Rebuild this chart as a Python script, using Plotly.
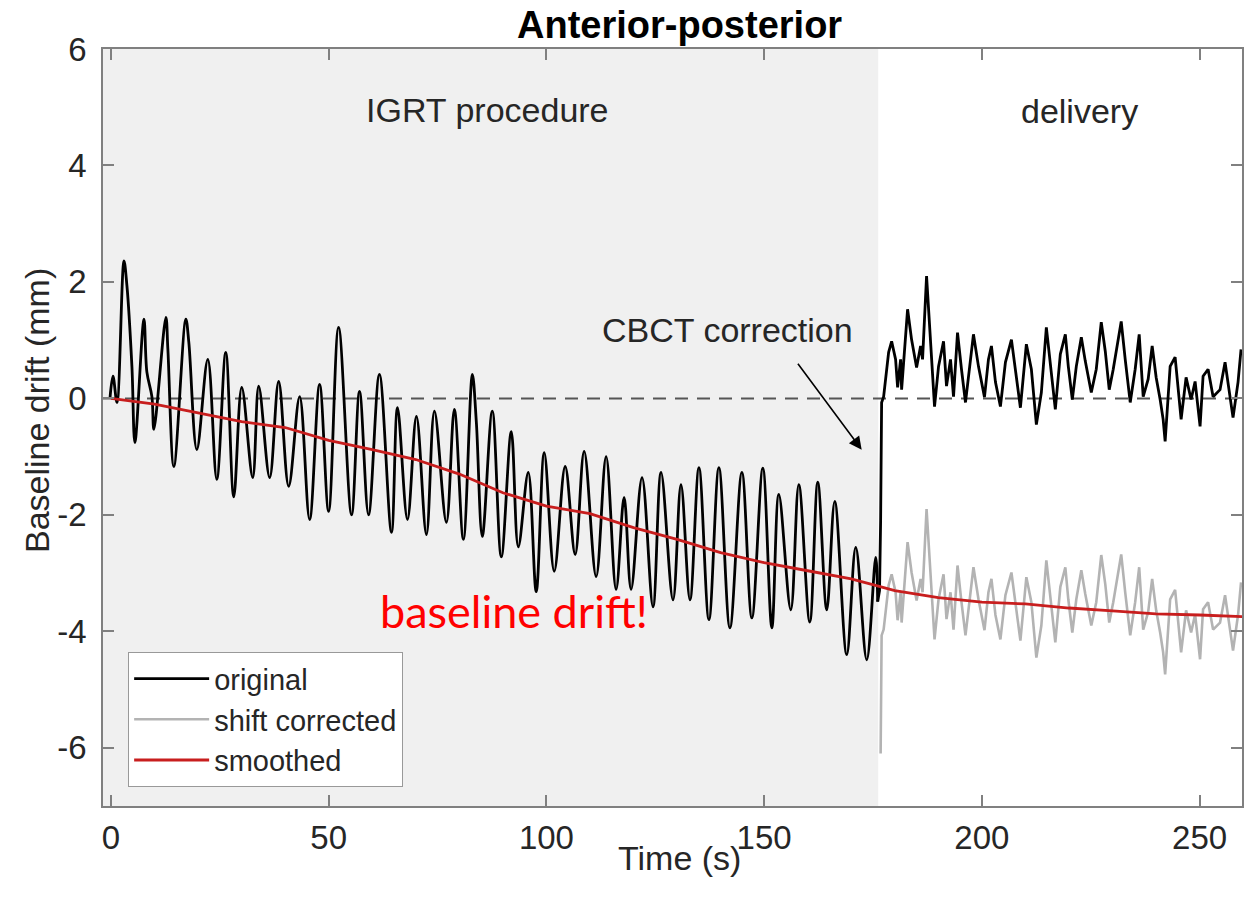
import plotly.graph_objects as go

# ---------------- data ----------------
# original signal: time (s) and baseline drift (mm)
orig_t = [-0.23, 0.46, 1.38, 2.98, 3.67, 4.81, 5.50, 7.57, 8.25, 9.40, 9.86, 12.61, 13.07, 14.44,
          17.19, 17.88, 19.72, 22.24, 24.30, 26.36, 28.20, 30.03, 32.55, 33.93, 36.45, 38.51,
          40.81, 43.33, 45.62, 47.91, 49.98, 52.27, 55.25, 57.08, 59.15, 61.65, 64.42, 65.80,
          68.09, 70.15, 72.44, 74.28, 77.03, 78.86, 80.93, 82.99, 83.91, 85.28, 87.57, 89.64,
          91.93, 93.54, 95.83, 97.66, 99.50, 101.79, 104.31, 106.60, 108.67, 111.42, 113.71,
          116.00, 117.84, 119.44, 121.96, 124.48, 126.32, 129.07, 130.90, 132.97, 135.03,
          137.32, 139.61, 142.14, 144.89, 147.18, 149.70, 151.77, 153.37, 156.12, 157.96,
          160.48, 162.32, 164.38, 166.22, 168.97, 171.04, 173.56, 175.62, 176.08, 176.50,
          176.75,
          176.98, 177.44, 178.59, 179.28, 180.19, 180.65, 181.34, 181.57, 182.94, 183.86,
          184.32, 185.01, 185.93, 186.38, 187.30, 188.22, 189.13, 190.05, 191.20, 191.88,
          192.80, 193.49, 194.41, 195.32, 196.24, 198.07, 199.22, 200.60, 201.51, 202.20,
          203.12, 204.26, 205.41, 206.79, 207.70, 208.85, 210.22, 211.37, 212.52, 213.66,
          214.81, 215.73, 216.87, 218.02, 219.17, 219.85, 220.77, 221.69, 222.84, 223.75,
          225.13, 226.27, 227.42, 228.34, 229.25, 230.17, 232.00, 232.92, 234.07, 235.21,
          236.13, 237.05, 238.19, 239.11, 240.03, 240.94, 241.63, 242.09, 243.24, 244.38,
          245.07, 245.76, 246.90, 248.05, 248.97, 250.11, 250.80, 251.95, 253.10, 254.70,
          255.85, 256.77, 257.68, 258.83, 259.52]
orig_v = [0.00, 0.38, -0.07, 2.36, 1.93, 0.55, -0.76, 1.36, 0.45, 0.03, -0.53, 1.39, 0.84, -1.17,
          1.36, 0.96, -0.88, 0.67, -1.39, 0.79, -1.69, 0.19, -1.36, 0.21, -1.36, 0.29,
          -1.51, 0.03, -2.08, 0.24, -1.94, 1.22, -2.00, 0.12, -2.00, 0.41, -2.30, -0.16,
          -2.08, -0.31, -2.34, -0.22, -2.13, -0.19, -2.42, 0.41, -0.41, -2.37, -0.22, -2.72,
          -0.57, -2.55, -1.27, -3.32, -0.93, -2.97, -1.17, -2.68, -0.91, -3.06, -1.00,
          -3.28, -1.70, -3.28, -1.36, -3.58, -1.27, -3.46, -1.48, -3.46, -1.19,
          -3.80, -1.19, -3.94, -1.27, -3.77, -1.20, -3.94, -1.65, -3.63, -1.48,
          -3.84, -1.44, -3.63, -1.77, -4.40, -2.56, -4.49, -2.73, -3.49, -3.30,
          -2.10,
          -0.07, 0.03, 0.79, 0.98, 0.67, 0.19, 0.67, 0.15, 1.53, 1.01,
          0.79, 0.53, 0.90, 0.67, 2.10, 0.96, -0.14, 0.55, 0.98, 0.21,
          0.67, 0.03, 1.13, 0.50, -0.07, 1.10, 0.55, 0.02, 0.67, 0.90,
          0.28, -0.14, 0.62, 1.01, 0.45, -0.16, 0.93, 0.50, -0.45, 0.10,
          1.22, 0.55, -0.19, 0.76, 1.10, 0.55, -0.02, 0.55, 1.05, 0.64,
          0.10, 0.50, 1.31, 0.81, 0.15, 0.50, 1.32, 0.67, -0.07, 0.50,
          1.10, 0.03, 0.33, 0.90, 0.36, -0.02, -0.36, -0.74, 0.55, 0.71,
          0.10, -0.36, 0.36, -0.02, 0.29, -0.48, 0.38, 0.50, 0.03, 0.15,
          0.62, 0.15, -0.33, 0.28, 0.84]

# CBCT couch shift applied at the correction (mm)
cbct_start = 176.08   # last sample before the jump
cbct_time = 176.75    # first shifted sample
cbct_shift = 4.0

# smoothed baseline
smooth_t = [0, 10, 20, 30, 40, 50, 60, 70, 80, 90, 100, 110, 120, 130, 140, 150, 160, 170,
            176, 180, 190, 200, 210, 220, 230, 240, 250, 260]
smooth_v = [0.0, -0.1, -0.25, -0.4, -0.5, -0.72, -0.88, -1.05, -1.3, -1.62, -1.85, -1.98,
            -2.22, -2.42, -2.65, -2.82, -2.96, -3.1, -3.22, -3.3, -3.42, -3.5, -3.53, -3.6,
            -3.65, -3.7, -3.72, -3.75]

x_ticks = [0, 50, 100, 150, 200, 250]
y_ticks = [-6, -4, -2, 0, 2, 4, 6]
y_ticktext = ["-6", "-4", "-2", "0", "2", "4", "6"]
igrt_end = 176.2
x_range = [-1.83, 259.74]
y_range = [-7, 6]

# split original into the IGRT part and the jump + delivery part
igrt_t = [t for t in orig_t if t <= cbct_start]
igrt_v = [v for t, v in zip(orig_t, orig_v) if t <= cbct_start]
deliv_t = [t for t in orig_t if t >= cbct_start]
deliv_v = [v for t, v in zip(orig_t, orig_v) if t >= cbct_start]

# shift-corrected signal: original minus CBCT shift after the correction
shift_t = [t for t in orig_t if t >= cbct_time]
shift_v = [v - cbct_shift for t, v in zip(orig_t, orig_v) if t >= cbct_time]

FONT = "Liberation Sans"
TXT = "#262626"
AX = "#808080"

fig = go.Figure()
fig.add_trace(go.Scatter(x=igrt_t, y=igrt_v, mode="lines", name="original", legendgroup="orig",
                         line=dict(color="black", width=2.8, shape="spline", smoothing=1.0)))
fig.add_trace(go.Scatter(x=deliv_t, y=deliv_v, mode="lines", name="original", legendgroup="orig",
                         showlegend=False, line=dict(color="black", width=2.8)))
fig.add_trace(go.Scatter(x=shift_t, y=shift_v, mode="lines", name="shift corrected",
                         line=dict(color="#b3b3b3", width=2.6)))
fig.add_trace(go.Scatter(x=smooth_t, y=smooth_v, mode="lines", name="smoothed",
                         line=dict(color="#c81e1e", width=2.8)))

# IGRT shaded region and zero line
fig.add_shape(type="rect", xref="x", yref="y", x0=x_range[0], x1=igrt_end,
              y0=y_range[0], y1=y_range[1], fillcolor="#f0f0f0", line_width=0, layer="below")
fig.add_shape(type="line", xref="x", yref="y", x0=x_range[0], x1=x_range[1], y0=0, y1=0,
              line=dict(color="#555555", width=2, dash="13px,9px"), layer="below")

ann_font = dict(family=FONT, size=34, color=TXT)
fig.add_annotation(x=86.5, y=4.95, xref="x", yref="y", text="IGRT procedure",
                   showarrow=False, font=ann_font)
fig.add_annotation(x=222.4, y=4.93, xref="x", yref="y", text="delivery",
                   showarrow=False, font=ann_font)
fig.add_annotation(x=141.6, y=1.17, xref="x", yref="y", text="CBCT correction",
                   showarrow=False, font=ann_font)
fig.add_annotation(x=172.4, y=-0.88, ax=157.5, ay=0.62, xref="x", yref="y",
                   axref="x", ayref="y", text="", showarrow=True, arrowhead=2,
                   arrowsize=1.6, arrowwidth=1.6, arrowcolor="black", standoff=0)
fig.add_annotation(x=92.6, y=-3.65, xref="x", yref="y", text="baseline drift!",
                   showarrow=False, font=dict(family="Lato", size=45, color="#ff0000"))

# title and axis titles
fig.add_annotation(x=0.506, y=1.0317, xref="paper", yref="paper", xanchor="center",
                   yanchor="middle", text="<b>Anterior-posterior</b>",
                   showarrow=False, font=dict(family=FONT, size=38, color="black"))
fig.add_annotation(x=0.506, y=-0.0687, xref="paper", yref="paper", xanchor="center",
                   yanchor="middle", text="Time (s)", showarrow=False, font=ann_font)
fig.add_annotation(x=-0.058, y=0.523, xref="paper", yref="paper", xanchor="center",
                   yanchor="middle", text="Baseline drift (mm)",
                   showarrow=False, textangle=-90, font=ann_font)

axis_common = dict(showgrid=False, zeroline=False, showline=True, linecolor=AX, linewidth=1.5,
                   mirror="allticks", ticks="inside", ticklen=11, tickcolor=AX, tickwidth=1.5,
                   tickfont=dict(family=FONT, size=33, color=TXT))
fig.update_xaxes(range=x_range, tickvals=x_ticks, ticklabelstandoff=2, **axis_common)
fig.update_yaxes(range=y_range, tickvals=y_ticks, ticktext=y_ticktext,
                 ticklabelstandoff=8, **axis_common)

fig.update_layout(
    width=1244, height=911,
    margin=dict(l=103, r=0, t=49, b=105),
    paper_bgcolor="white", plot_bgcolor="white",
    showlegend=True,
    legend=dict(x=0.0219, y=0.2034, xanchor="left", yanchor="top",
                bgcolor="white", bordercolor="#999999", borderwidth=1.2,
                font=dict(family=FONT, size=29, color=TXT), itemwidth=75,
                tracegroupgap=0),
)

fig.write_html("out.html")
